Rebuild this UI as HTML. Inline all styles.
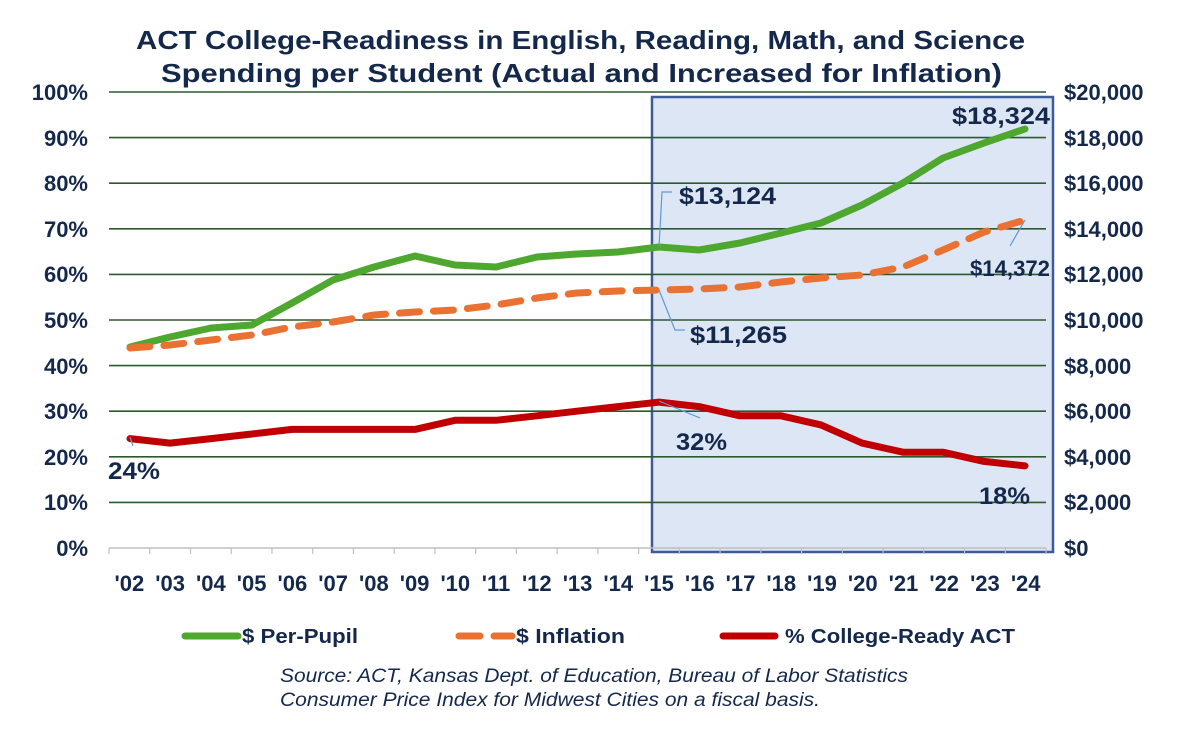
<!DOCTYPE html>
<html><head><meta charset="utf-8"><style>
body{margin:0;background:#fff;}
svg{display:block;font-family:"Liberation Sans",Arial,sans-serif;}
</style></head><body>
<svg width="1200" height="730" viewBox="0 0 1200 730">
<rect x="0" y="0" width="1200" height="730" fill="#fff"/>
<text x="136" y="49" textLength="889" lengthAdjust="spacingAndGlyphs" font-size="26" font-weight="bold" fill="#14284b">ACT College-Readiness in English, Reading, Math, and Science</text>
<text x="161" y="82" textLength="841" lengthAdjust="spacingAndGlyphs" font-size="26" font-weight="bold" fill="#14284b">Spending per Student (Actual and Increased for Inflation)</text>
<rect x="652" y="97" width="401" height="455" fill="#dde6f4" stroke="#3d5a99" stroke-width="2.5"/>
<g stroke="#2d5a2d" stroke-width="1.6">
<line x1="109" y1="92" x2="1046" y2="92"/>
<line x1="109" y1="137.6" x2="1046" y2="137.6"/>
<line x1="109" y1="183.2" x2="1046" y2="183.2"/>
<line x1="109" y1="228.8" x2="1046" y2="228.8"/>
<line x1="109" y1="274.4" x2="1046" y2="274.4"/>
<line x1="109" y1="320" x2="1046" y2="320"/>
<line x1="109" y1="365.6" x2="1046" y2="365.6"/>
<line x1="109" y1="411.2" x2="1046" y2="411.2"/>
<line x1="109" y1="456.8" x2="1046" y2="456.8"/>
<line x1="109" y1="502.4" x2="1046" y2="502.4"/>
</g>
<line x1="109" y1="548" x2="1046" y2="548" stroke="#bfbfbf" stroke-width="1.5"/>
<g stroke="#bfbfbf" stroke-width="1.2" id="ticks"></g>
<g font-size="22" font-weight="bold" fill="#14284b" text-anchor="end">
<text x="88" y="100">100%</text><text x="88" y="146">90%</text><text x="88" y="191">80%</text><text x="88" y="237">70%</text><text x="88" y="282">60%</text><text x="88" y="328">50%</text><text x="88" y="374">40%</text><text x="88" y="419">30%</text><text x="88" y="465">20%</text><text x="88" y="510">10%</text><text x="88" y="556">0%</text>
</g>
<g font-size="22" font-weight="bold" fill="#14284b" text-anchor="start">
<text x="1064" y="100">$20,000</text><text x="1064" y="146">$18,000</text><text x="1064" y="191">$16,000</text><text x="1064" y="237">$14,000</text>
<text x="1064" y="282">$12,000</text><text x="1064" y="328">$10,000</text><text x="1064" y="374">$8,000</text><text x="1064" y="419">$6,000</text><text x="1064" y="465">$4,000</text><text x="1064" y="510">$2,000</text><text x="1064" y="556">$0</text>
</g>
<g font-size="22" font-weight="bold" fill="#14284b" text-anchor="middle" id="xl"></g>
<polyline fill="none" stroke="#4ea72e" stroke-width="7" stroke-linejoin="round" stroke-linecap="round" points="130,347 170,337 211,328 252,325 292,303 333,280 374,267 415,256 455,265 496,267 537,257 577,254 618,252 659,247 699,250 740,243 781,233 821,223 862,205 903,183 943,158 984,143 1025,129"/>
<polyline fill="none" stroke="#e97132" stroke-width="7" stroke-linejoin="round" stroke-linecap="round" stroke-dasharray="20 14" points="130,348 170,345 211,340 252,335 292,327 333,322 374,315 415,312 455,310 496,305 537,298 577,293 618,291 659,290 699,289 740,287 781,282 821,278 862,275 903,267 943,250 984,232 1025,220"/>
<polyline fill="none" stroke="#c00000" stroke-width="7" stroke-linejoin="round" stroke-linecap="round" points="130,438.6 170,443.1 211,438.6 252,434 292,429.4 333,429.4 374,429.4 415,429.4 455,420.3 496,420.3 537,415.8 577,411.2 618,406.6 659,402.1 699,406.6 740,415.8 781,415.8 821,424.9 862,443.1 903,452.2 943,452.2 984,461.4 1025,465.9"/>
<g stroke="#5b9bd5" stroke-width="1.2" fill="none">
<polyline points="659,247 662,192 672,192"/>
<polyline points="659,290 675,330 685,330"/>
<line x1="659" y1="401" x2="700" y2="418"/>
<line x1="1025" y1="220" x2="1010" y2="246"/>
<line x1="130" y1="437" x2="133" y2="446"/>
</g>
<g font-size="24" font-weight="bold" fill="#14284b">
<text x="952" y="124" textLength="98" lengthAdjust="spacingAndGlyphs">$18,324</text>
<text x="679" y="204" textLength="97" lengthAdjust="spacingAndGlyphs">$13,124</text>
<text x="690" y="343" textLength="97" lengthAdjust="spacingAndGlyphs">$11,265</text>
<text x="970" y="276" font-size="22" textLength="80" lengthAdjust="spacingAndGlyphs">$14,372</text>
<text x="676" y="450" textLength="51" lengthAdjust="spacingAndGlyphs">32%</text>
<text x="979" y="504" textLength="51" lengthAdjust="spacingAndGlyphs">18%</text>
<text x="108" y="479" textLength="52" lengthAdjust="spacingAndGlyphs">24%</text>
</g>
<line x1="185" y1="636" x2="238" y2="636" stroke="#4ea72e" stroke-width="7" stroke-linecap="round"/>
<line x1="459" y1="636" x2="480" y2="636" stroke="#e97132" stroke-width="7" stroke-linecap="round"/>
<line x1="494" y1="636" x2="512" y2="636" stroke="#e97132" stroke-width="7" stroke-linecap="round"/>
<line x1="723" y1="636" x2="775" y2="636" stroke="#c00000" stroke-width="7" stroke-linecap="round"/>
<g font-size="20" font-weight="bold" fill="#14284b">
<text x="242" y="643" textLength="116" lengthAdjust="spacingAndGlyphs">$ Per-Pupil</text>
<text x="516" y="643" textLength="109" lengthAdjust="spacingAndGlyphs">$ Inflation</text>
<text x="785" y="643" textLength="230" lengthAdjust="spacingAndGlyphs">% College-Ready ACT</text>
</g>
<g font-size="19" font-style="italic" fill="#14284b">
<text x="280" y="682" textLength="628" lengthAdjust="spacingAndGlyphs">Source: ACT, Kansas Dept. of Education, Bureau of Labor Statistics</text>
<text x="280" y="706" textLength="540" lengthAdjust="spacingAndGlyphs">Consumer Price Index for Midwest Cities on a fiscal basis.</text>
</g>
</svg>
<script>
var t=document.getElementById('ticks'),x=document.getElementById('xl'),ns='http://www.w3.org/2000/svg';
for(var i=0;i<=23;i++){var xx=109+i*40.74;var l=document.createElementNS(ns,'line');l.setAttribute('x1',xx);l.setAttribute('x2',xx);l.setAttribute('y1',548);l.setAttribute('y2',554);t.appendChild(l);}
for(var i=0;i<23;i++){var s=document.createElementNS(ns,'text');s.setAttribute('x',129.4+i*40.74);s.setAttribute('y',591);var y=2+i;s.textContent="'"+(y<10?'0':'')+y;x.appendChild(s);}
</script>
</body></html>
